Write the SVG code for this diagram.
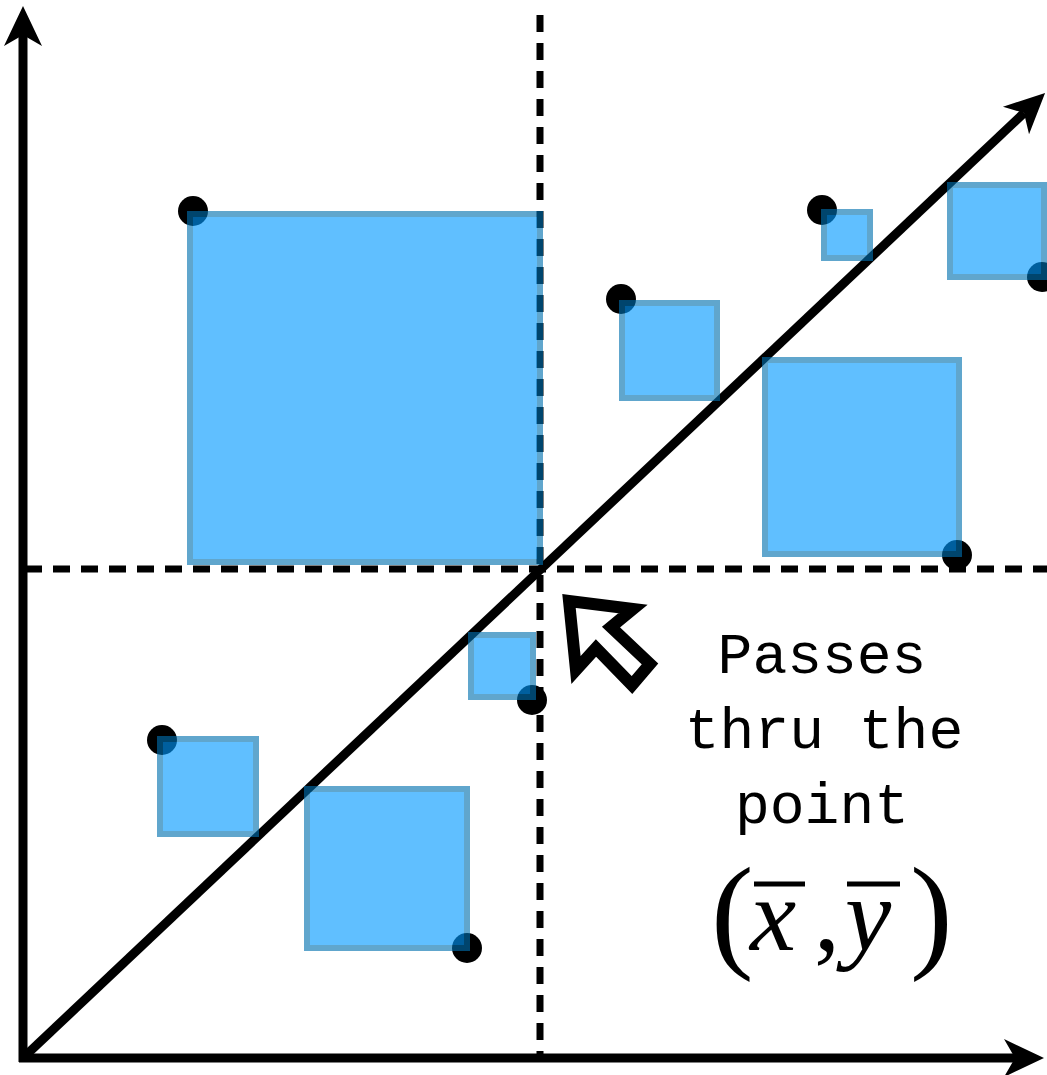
<svg xmlns="http://www.w3.org/2000/svg" width="1047" height="1075" viewBox="0 0 1047 1075">
<defs>
<marker id="ah" markerUnits="userSpaceOnUse" markerWidth="100" markerHeight="100" viewBox="-50 -50 100 100" refX="0" refY="0" orient="auto" overflow="visible">
<path d="M29,0 L-11,-19 L0,0 L-11,19 Z" fill="#000"/>
</marker>
<style>
.ax{stroke:#000;stroke-width:9;fill:none}
.dash{stroke:#000;stroke-width:7;fill:none;stroke-dasharray:17 11}
.dot{fill:#000}
.sq{fill:#0099ff;stroke:#0070b0;stroke-width:6;opacity:0.62}
.lbl{font-family:"Liberation Mono","Courier New",monospace;font-size:58px;fill:#000;text-anchor:middle}
.m{font-family:"Liberation Serif","Times New Roman",serif;fill:#000}
</style>
</defs>
<rect width="1047" height="1075" fill="#fff"/>
<g id="connectors">
<line class="dash" x1="540" y1="15" x2="540" y2="1062"/>
<line class="dash" x1="25" y1="569" x2="1047" y2="569"/>
<line class="ax" x1="23" y1="1062" x2="23" y2="35" marker-end="url(#ah)"/>
<line class="ax" x1="19" y1="1058" x2="1015" y2="1058" marker-end="url(#ah)"/>
<line class="ax" x1="24" y1="1057" x2="1024" y2="113" marker-end="url(#ah)"/>
</g>
<g id="dots">
<circle class="dot" cx="193" cy="211" r="15"/>
<circle class="dot" cx="822" cy="210" r="15"/>
<circle class="dot" cx="1042" cy="277" r="15"/>
<circle class="dot" cx="621" cy="299" r="15"/>
<circle class="dot" cx="957" cy="555" r="15"/>
<circle class="dot" cx="532" cy="700" r="15"/>
<circle class="dot" cx="162" cy="740" r="15"/>
<circle class="dot" cx="467" cy="948" r="15"/>
</g>
<g id="squares">
<rect id="sq1" class="sq" x="190" y="214" width="350" height="348"/>
<rect id="sq2" class="sq" x="824" y="212" width="46" height="46"/>
<rect id="sq3" class="sq" x="950" y="185" width="94" height="92"/>
<rect id="sq4" class="sq" x="622" y="303" width="95" height="95"/>
<rect id="sq5" class="sq" x="765" y="360" width="194" height="194"/>
<rect id="sq6" class="sq" x="471" y="635" width="62" height="62"/>
<rect id="sq7" class="sq" x="160" y="739" width="96" height="95"/>
<rect id="sq8" class="sq" x="307" y="789" width="160" height="159"/>
</g>
<g id="pointer">
<polygon points="569,601 633,609 611,627 650,664 632,685 596,648 576,670" fill="#fff" stroke="#000" stroke-width="12" stroke-linejoin="miter"/>
</g>
<g id="label">
<text class="lbl" x="822" y="673">Passes</text>
<text class="lbl" x="824" y="748">thru the</text>
<text class="lbl" x="822" y="823">point</text>
</g>
<g id="formula">
<text class="m" x="711" y="955" font-size="128">(</text>
<text class="m" x="750" y="950" font-size="104" font-style="italic">x</text>
<text class="m" x="814" y="950" font-size="104">,</text>
<text class="m" x="845" y="950" font-size="104" font-style="italic">y</text>
<text class="m" x="910" y="955" font-size="128">)</text>
<line x1="754" y1="884" x2="805" y2="884" stroke="#000" stroke-width="5"/>
<line x1="847" y1="884" x2="900" y2="884" stroke="#000" stroke-width="5"/>
</g>
</svg>
